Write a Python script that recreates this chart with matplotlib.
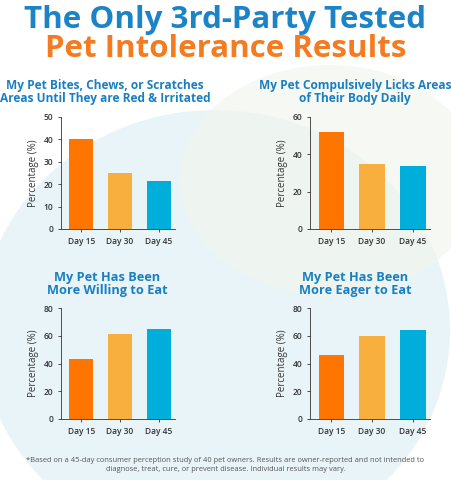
import matplotlib
matplotlib.use("Agg")
import matplotlib.pyplot as plt
from matplotlib.patches import Ellipse

days = ["Day 15", "Day 30", "Day 45"]
titles = ["My Pet Bites, Chews, or Scratches\nAreas Until They are Red & Irritated",
          "My Pet Compulsively Licks Areas\nof Their Body Daily",
          "My Pet Has Been\nMore Willing to Eat",
          "My Pet Has Been\nMore Eager to Eat"]
bites = [40, 25, 21.5]
licks = [52, 35, 33.5]
willing = [43, 61, 65]
eager = [46, 60, 64.5]
ymaxes = [50, 60, 80, 80]
yticks = [[0, 10, 20, 30, 40, 50], [0, 20, 40, 60], [0, 20, 40, 60, 80], [0, 20, 40, 60, 80]]
colors = ["#FF7500", "#F9AF3E", "#00AEDB"]

plt.rcParams['font.family'] = ['Open Sans', 'DejaVu Sans']
W, H = 451, 480
fig = plt.figure(figsize=(4.51, 4.80), dpi=100)
fig.patch.set_facecolor("white")

bg = fig.add_axes([0, 0, 1, 1], zorder=-10)
bg.set_xlim(0, W); bg.set_ylim(H, 0); bg.axis("off")
bg.add_patch(Ellipse((215, 330), 470, 440, color="#e6f3f7", alpha=0.85, lw=0))
bg.add_patch(Ellipse((330, 180), 300, 230, color="#f1f6ee", alpha=0.7, lw=0))

fig.text(0.5, 1 - 20 / H, "The Only 3rd-Party Tested", ha="center", va="center",
         fontsize=22.5, fontweight="bold", color="#1b84c6")
fig.text(0.5, 1 - 49 / H, "Pet Intolerance Results", ha="center", va="center",
         fontsize=22.5, fontweight="bold", color="#f47b20")

boxes = [(61, 117, 175, 229), (310, 117, 430, 229), (61, 308, 175, 419), (310, 308, 430, 419)]
title_y = [92, 92, 284, 284]
title_x = [105, 355, 107, 355]
data = [bites, licks, willing, eager]
for i, (x0, y0, x1, y1) in enumerate(boxes):
    ax = fig.add_axes([x0 / W, 1 - y1 / H, (x1 - x0) / W, (y1 - y0) / H])
    ax.patch.set_alpha(0)
    ax.bar(range(3), data[i], width=0.62, color=colors)
    ax.set_xlim(-0.52, 2.42)
    ax.set_ylim(0, ymaxes[i])
    ax.set_yticks(yticks[i])
    ax.set_xticks(range(3))
    ax.set_xticklabels(days)
    ax.tick_params(labelsize=6, colors="#333333", length=2, width=0.6)
    for lab in ax.get_xticklabels() + ax.get_yticklabels():
        lab.set_fontweight("semibold")
    for s in ["top", "right"]:
        ax.spines[s].set_visible(False)
    for s in ["left", "bottom"]:
        ax.spines[s].set_color("#333333"); ax.spines[s].set_linewidth(0.6)
    ax.set_ylabel("Percentage (%)", fontsize=7, color="#333333", labelpad=3)
    fig.text(title_x[i] / W, 1 - title_y[i] / H, titles[i], ha="center", va="center",
             fontsize=8.6 if i < 2 else 9.2, fontweight="bold", color="#1a7fc1", linespacing=1.0)

fig.text(0.5, 1 - 465 / H,
         "*Based on a 45-day consumer perception study of 40 pet owners. Results are owner-reported and not intended to\ndiagnose, treat, cure, or prevent disease. Individual results may vary.",
         ha="center", va="center", fontsize=5.4, color="#555555", linespacing=1.3)

fig.savefig("out.png", dpi=100)
